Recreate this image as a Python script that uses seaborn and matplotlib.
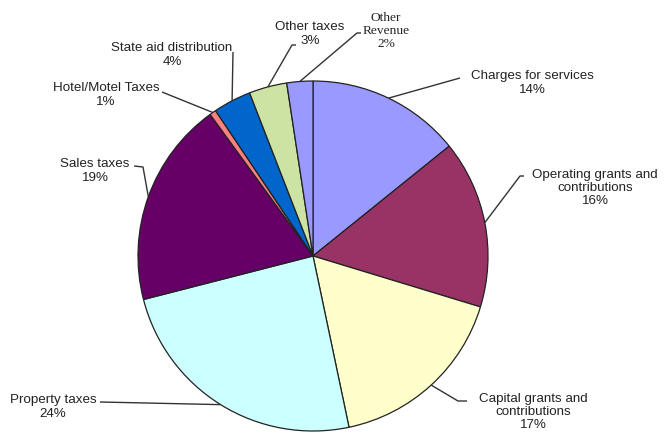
import numpy as np
import seaborn as sns
import matplotlib as mpl
mpl.use('Agg')
import matplotlib.pyplot as plt

# revenue sources, clockwise from 12 o'clock
categories = ['Charges for services', 'Operating grants and\ncontributions',
              'Capital grants and\ncontributions', 'Property taxes', 'Sales taxes',
              'Hotel/Motel Taxes', 'State aid distribution', 'Other taxes', 'Other\nRevenue']
shares = [14.2, 15.5, 17.0, 24.3, 19.0, 0.6, 3.5, 3.5, 2.4]
pct_labels = ['14%', '16%', '17%', '24%', '19%', '1%', '4%', '3%', '2%']
colors = ['#9999FF', '#993366', '#FFFFCC', '#CCFFFF', '#660066',
          '#FF8080', '#0066CC', '#CDE3A3', '#9999FF']

W, H = 664, 433
sns.set_theme(style='white')
plt.rcParams['font.family'] = ['Liberation Sans', 'DejaVu Sans']

def lay(x, y):
    # pixel position (from top-left) -> data coords
    return x, H - y

fig = plt.figure(figsize=(W / 100, H / 100), dpi=100)
ax = fig.add_axes([0, 0, 1, 1])
cx, cy = lay(313, 256)
r = 175
wedges, _ = ax.pie(shares, colors=colors, startangle=90, counterclock=False,
                   center=(cx, cy), radius=r,
                   wedgeprops=dict(edgecolor='#222222', linewidth=0.9))
ax.set_xlim(0, W)
ax.set_ylim(0, H)
ax.set_aspect('equal')
ax.axis('off')

# leader line bends and label anchors (layout, pixels)
leader_pts = [[(460, 78)], [(520, 176), (524, 176)], [(458, 401), (467, 401)],
              [(100, 402)], [(143, 167), (134, 166)], [(162, 92)],
              [(233, 52)], [(292, 45), (296, 45)], [(357, 33), (361, 33)]]
label_pos = [(532, 83), (595, 188), (533, 412), (53, 407), (95, 171),
             (106, 95), (172, 55), (310, 34), (386, 31)]

for i, w in enumerate(wedges):
    mid = np.deg2rad((w.theta1 + w.theta2) / 2)
    ex, ey = cx + r * np.cos(mid), cy + r * np.sin(mid)
    pts = [(ex, ey)] + [lay(*p) for p in leader_pts[i]]
    xs, ys = zip(*pts)
    ax.plot(xs, ys, color='#333333', lw=1.0, solid_capstyle='butt')
    tx, ty = lay(*label_pos[i])
    fam = ['Liberation Serif'] if i == 8 else ['Liberation Sans', 'DejaVu Sans']
    ax.text(tx, ty, categories[i] + '\n' + pct_labels[i], ha='center', va='center',
            fontsize=9.6, color='#222222', family=fam, linespacing=1.15)

plt.savefig('out.png', dpi=100)
